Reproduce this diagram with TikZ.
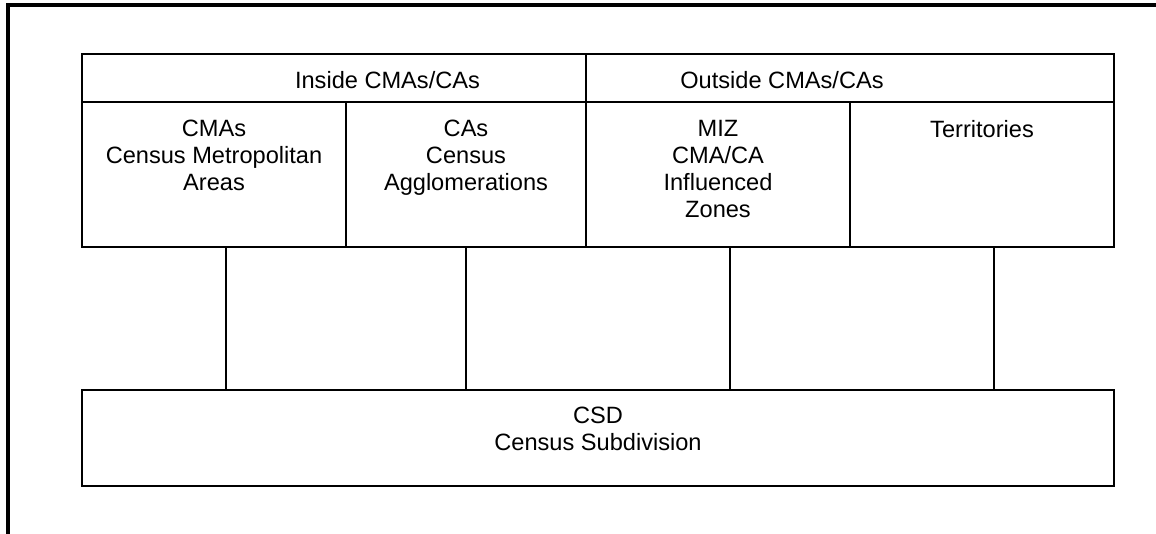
\documentclass[tikz,border=0pt]{standalone}
\usepackage{fontspec}
\setmainfont{Liberation Sans}
\begin{document}
\begin{tikzpicture}[x=1pt,y=-1pt,
  cell/.style={draw=black, line width=2pt, inner sep=0pt, outer sep=0pt, rectangle},
  lbl/.style={anchor=north, align=center, inner sep=0pt, font=\fontsize{23.6}{27}\selectfont},
  link/.style={draw=black, line width=2pt},
  frame/.style={draw=black, line width=3.5pt}]
\useasboundingbox (0,0) rectangle (1156,533);
% outer frame (top and left only)
\draw[frame] (1160,5) -- (8,5) -- (8,537);
% header row
\node[cell, minimum width=504pt, minimum height=48pt] (hin) at (334,78) {};
\node[cell, minimum width=528pt, minimum height=48pt] (hout) at (850,78) {};
% lower row
\node[cell, minimum width=264pt, minimum height=145pt] (cma) at (214,174.5) {};
\node[cell, minimum width=240pt, minimum height=145pt] (ca) at (466,174.5) {};
\node[cell, minimum width=264pt, minimum height=145pt] (miz) at (718,174.5) {};
\node[cell, minimum width=264pt, minimum height=145pt] (ter) at (982,174.5) {};
% CSD
\node[cell, minimum width=1032pt, minimum height=96pt] (csd) at (598,438) {};
% labels
\node[lbl] (thin) at (387.5,71) {Inside CMAs/CAs};
\node[lbl] (thout) at (782,71) {Outside CMAs/CAs};
\node[lbl] (tcma) at (214,120) {CMAs\\Census Metropolitan\\Areas};
\node[lbl] (tca) at (466,120) {CAs\\Census\\Agglomerations};
\node[lbl] (tmiz) at (718,120) {MIZ\\CMA/CA\\Influenced\\Zones};
\node[lbl] (tter) at (982,120) {Territories};
\node[lbl] (tcsd) at (598,406.5) {CSD\\Census Subdivision};
% connectors
\draw[link] ([xshift=12pt]cma.south) -- ([xshift=12pt]cma.south |- csd.north);
\draw[link] (ca.south) -- (ca.south |- csd.north);
\draw[link] ([xshift=12pt]miz.south) -- ([xshift=12pt]miz.south |- csd.north);
\draw[link] ([xshift=12pt]ter.south) -- ([xshift=12pt]ter.south |- csd.north);
\end{tikzpicture}
\end{document}
